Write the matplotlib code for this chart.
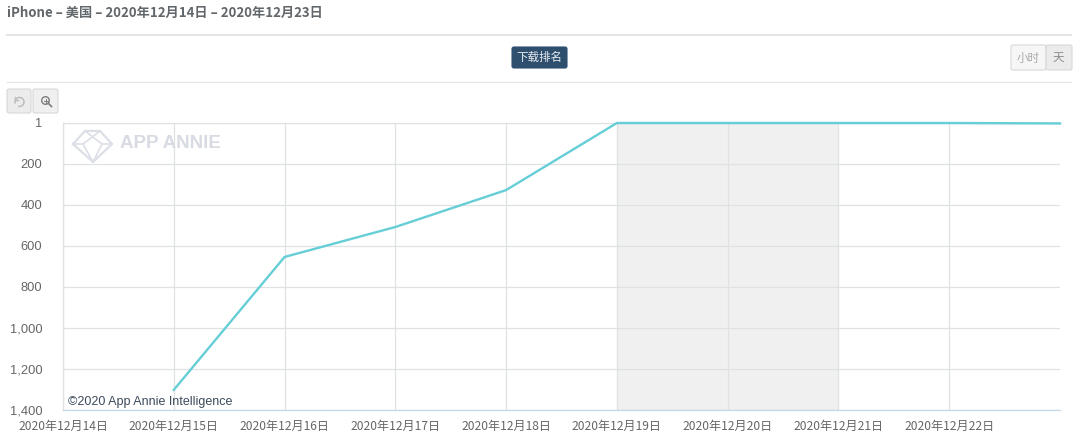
import matplotlib
matplotlib.use('Agg')
import matplotlib.pyplot as plt
from matplotlib.patches import FancyBboxPatch, Arc

plt.rcParams['font.family'] = ['Noto Sans CJK SC', 'DejaVu Sans']

# data
days = [14, 15, 16, 17, 18, 19, 20, 21, 22, 23]
line_days = [15, 16, 17, 18, 19, 20, 21, 22, 23]
ranks = [1302, 654, 508, 328, 1, 1, 1, 1, 3]
rank_ticks = [1, 200, 400, 600, 800, 1000, 1200, 1400]
rank_labels = ['1', '200', '400', '600', '800', '1,000', '1,200', '1,400']
day_labels = [f'2020年12月{d}日' for d in days[:-1]]
weekend = (19, 21)

W, H = 1080, 442
fig = plt.figure(figsize=(W / 100, H / 100), dpi=100, facecolor='white')

# overlay in pixel coords for the page furniture
page = fig.add_axes([0, 0, 1, 1])
page.set_xlim(0, W)
page.set_ylim(H, 0)
page.axis('off')

page.text(7, 13, 'iPhone – 美国 – 2020年12月14日 – 2020年12月23日', fontsize=9.5,
          fontweight='bold', color='#62676b', va='center')
page.plot([7, 1071], [35, 35], color='#e6e6e6', lw=1.5)
page.plot([7, 1071], [81.5, 81.5], color='#e6e6e6', lw=1)


def button(x, y, w, h, fc, ec='#d8d8d8', zorder=2):
    page.add_patch(FancyBboxPatch((x + 1, y + 1), w - 2, h - 2, boxstyle='round,pad=1,rounding_size=2',
                                  fc=fc, ec=ec, lw=0.8, zorder=zorder))


button(512, 47, 55, 21, '#2f4f6f', ec='#2f4f6f')
page.text(539.5, 57.5, '下载排名', fontsize=8.3, color='#e8edf2', ha='center', va='center', zorder=3)

button(1011, 45, 35, 25, '#f6f6f6')
button(1046, 45, 26, 25, '#ebebeb')
page.text(1028, 58, '小时', fontsize=8.3, color='#a8a8a8', ha='center', va='center', zorder=3)
page.text(1058, 58, '天', fontsize=8.3, color='#8c8c8c', ha='center', va='center', zorder=3)

button(7, 89, 24, 24, '#ececec')
button(33, 89, 25, 24, '#f0f0f0')
# the two toolbar glyphs
page.add_patch(Arc((19.5, 102), 9, 9, theta1=-200, theta2=110, color='#bdbdbd', lw=1.1, zorder=3))
page.plot([15, 15, 18], [96.5, 100, 100], color='#bdbdbd', lw=1, zorder=3)
page.scatter([45.5], [100.5], s=30, facecolor='none', edgecolor='#7d7d7d', lw=1, zorder=3)
page.plot([48.5, 51.5], [103.5, 106.5], color='#7d7d7d', lw=1.2, zorder=3)
page.plot([43.5, 47.5], [100.5, 100.5], color='#7d7d7d', lw=0.7, zorder=3)
page.plot([45.5, 45.5], [98.5, 102.5], color='#7d7d7d', lw=0.7, zorder=3)

# chart
left, right, top, bottom = 63, 1060, 123, 410
ax = fig.add_axes([left / W, 1 - bottom / H, (right - left) / W, (bottom - top) / H])
ax.set_xlim(days[0], days[-1])
ax.set_ylim(rank_ticks[-1], rank_ticks[0])
ax.patch.set_alpha(0)
ax.axvspan(weekend[0], weekend[1], color='#f0f0f0', lw=0, zorder=0)
ax.grid(True, color='#dfe1e3', lw=0.9, zorder=1)
ax.set_axisbelow(True)
ax.set_xticks(days[:-1])
ax.set_xticklabels(day_labels, fontsize=8.7, color='#666666')
ax.set_yticks(rank_ticks)
ax.set_yticklabels(rank_labels, fontsize=8.3, color='#666666')
ax.tick_params(length=0)
ax.tick_params(axis='x', pad=7)
ax.tick_params(axis='y', pad=15)
for lab in ax.get_yticklabels():
    lab.set_fontfamily(['Liberation Sans', 'DejaVu Sans'])
    lab.set_fontsize(9.3)
for side in ['top', 'left']:
    ax.spines[side].set_color('#dfe1e3')
    ax.spines[side].set_linewidth(0.9)
ax.spines['right'].set_visible(False)
ax.spines['bottom'].set_color('#c6d8e8')
ax.spines['bottom'].set_linewidth(0.9)
ax.plot(line_days, ranks, color='#65ced6', lw=1.7, clip_on=False, zorder=3)

# watermark
page.set_zorder(ax.get_zorder() + 1)
logo = '#dcdfe6'
page.plot([73, 85, 100, 112, 93, 73], [144, 131, 131, 144, 162, 144], color=logo, lw=1.6)
page.plot([85, 102, 93, 83, 100], [131, 144, 162, 144, 131], color=logo, lw=1.2)
page.plot([73, 83], [144, 144], color=logo, lw=1.2)
page.plot([102, 112], [144, 144], color=logo, lw=1.2)
page.text(120.5, 144, 'APP ANNIE', fontsize=13.5, color='#d8dbe3', va='center',
          fontweight='bold', family=['Liberation Sans'])
page.text(68, 402, '©2020 App Annie Intelligence', fontsize=9, color='#3c4a5c', va='center',
          family=['Liberation Sans'])

fig.savefig('out.png', dpi=100)
